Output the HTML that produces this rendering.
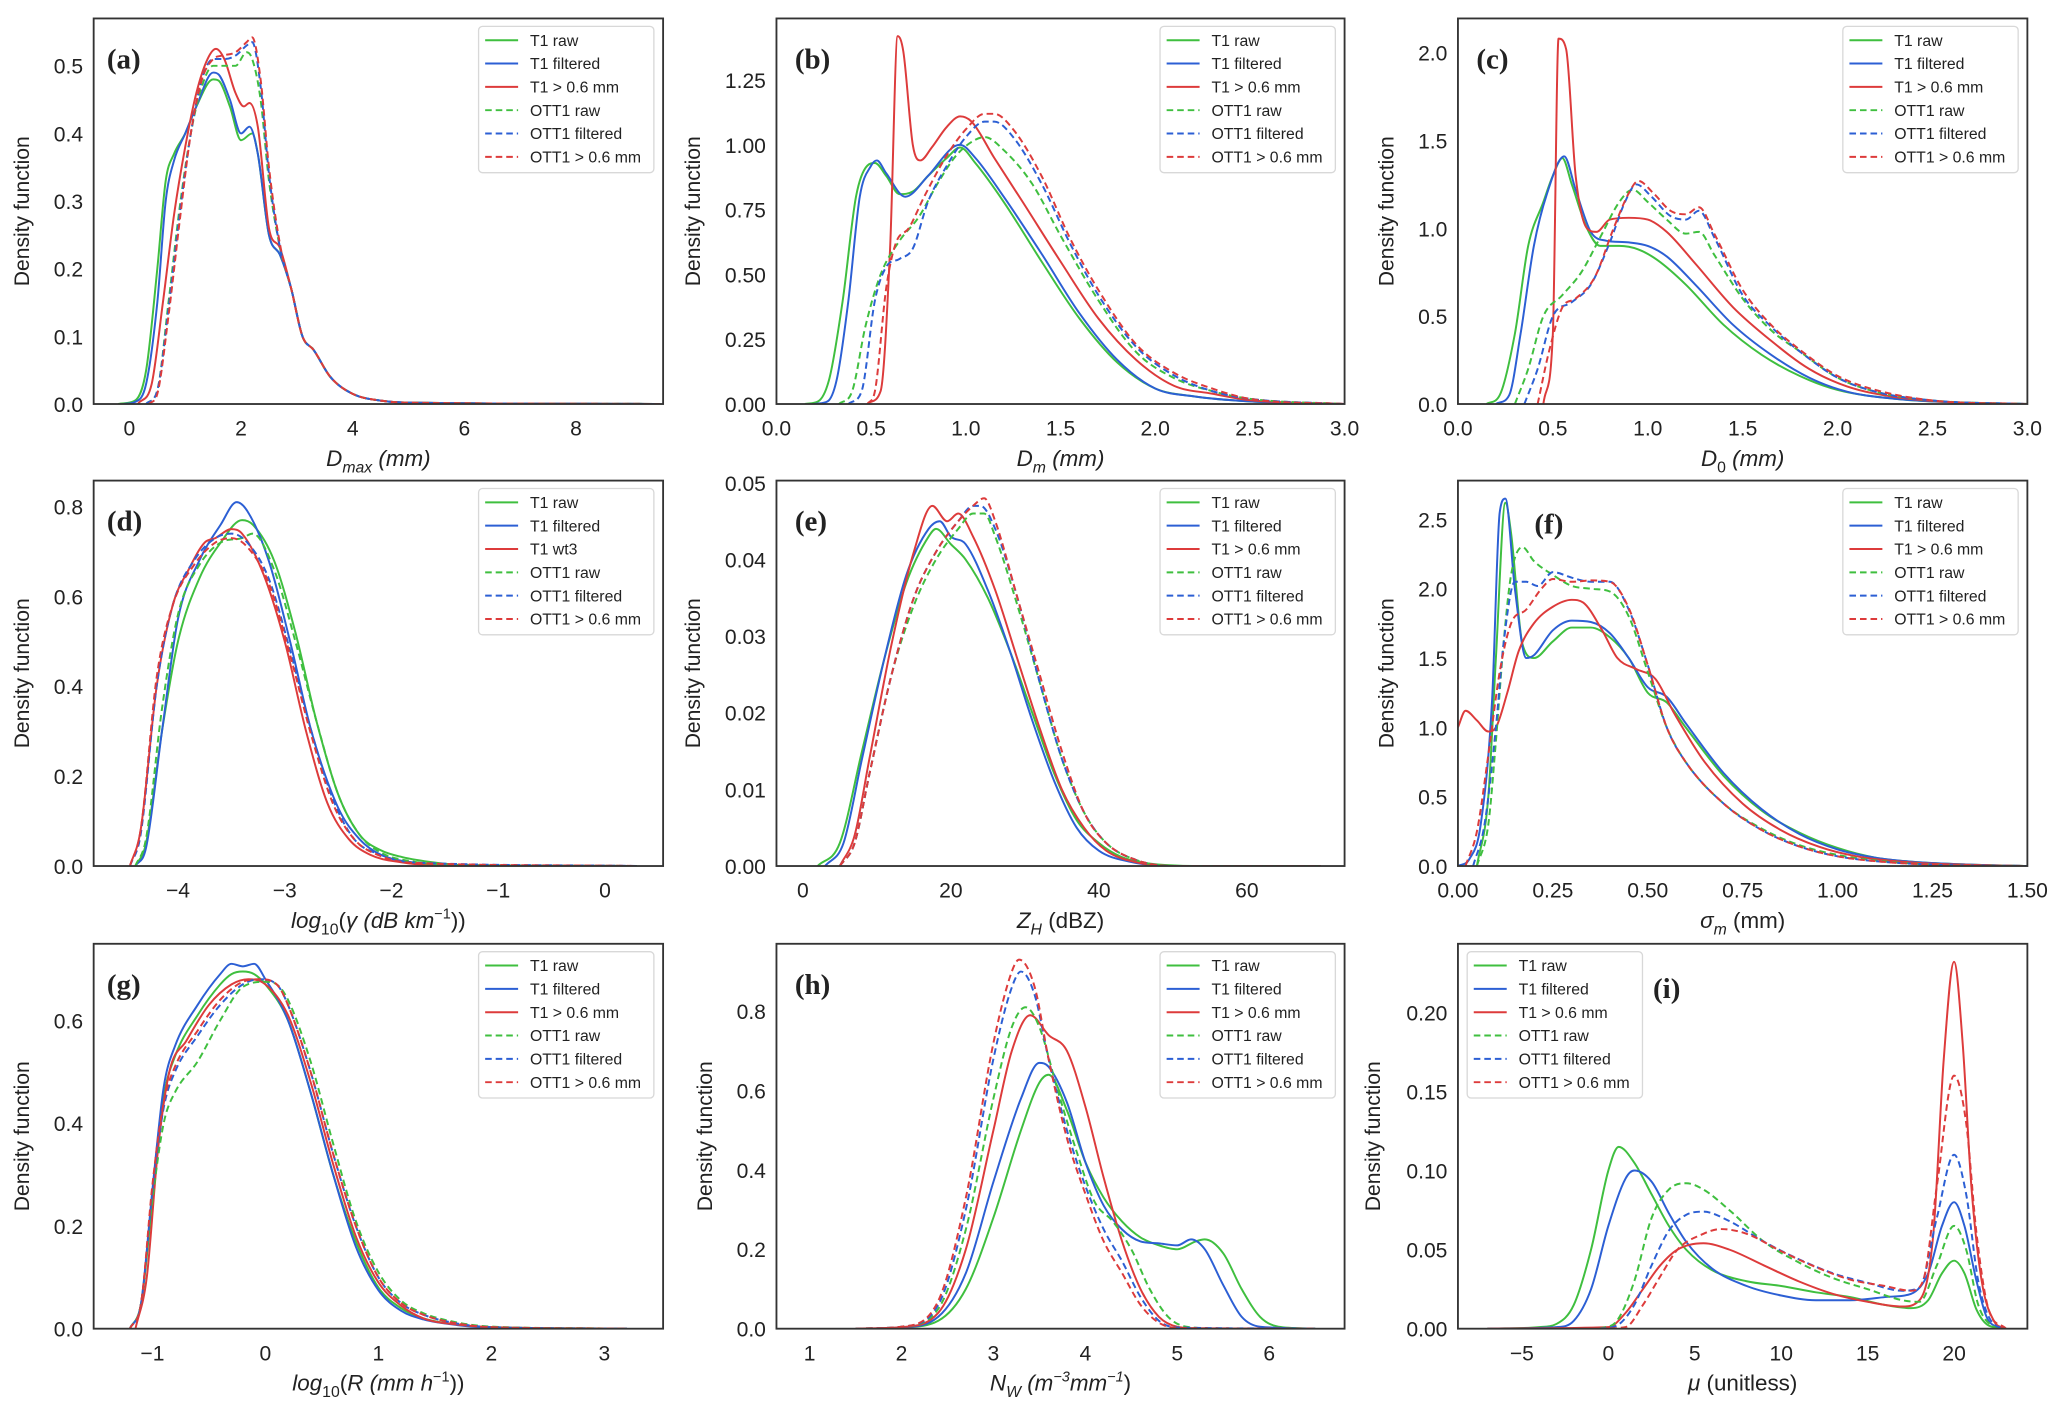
<!DOCTYPE html>
<html><head><meta charset="utf-8"><title>Density functions</title>
<style>
html,body{margin:0;padding:0;background:#fff;}
svg{display:block;}
text{font-family:"Liberation Sans",sans-serif;fill:#222;}
</style></head>
<body>
<svg id="fig" width="2067" height="1417" viewBox="0 0 1568 1075" xmlns="http://www.w3.org/2000/svg"></svg>
<script>
// ---------------- DATA ----------------
// legend labels
const labelsStd = ["T1 raw","T1 filtered","T1 > 0.6 mm","OTT1 raw","OTT1 filtered","OTT1 > 0.6 mm"];
const labelsD = ["T1 raw","T1 filtered","T1 wt3","OTT1 raw","OTT1 filtered","OTT1 > 0.6 mm"];

// panel a: Dmax
const a_t1raw=[[-0.2,0],[0.1,0.005],[0.3,0.05],[0.5,0.2],[0.65,0.33],[0.8,0.37],[1.0,0.40],[1.2,0.44],[1.5,0.48],[1.6,0.478],[1.8,0.44],[2.0,0.39],[2.2,0.40],[2.3,0.37],[2.5,0.25],[2.7,0.22],[2.9,0.17],[3.1,0.10],[3.3,0.08],[3.6,0.04],[4.0,0.015],[4.5,0.005],[5,0.002],[9.5,0]];
const a_t1filt=[[-0.1,0],[0.1,0.003],[0.3,0.03],[0.5,0.15],[0.65,0.30],[0.8,0.36],[1.0,0.40],[1.2,0.44],[1.5,0.49],[1.6,0.487],[1.8,0.45],[2.0,0.40],[2.15,0.41],[2.3,0.37],[2.5,0.25],[2.7,0.22],[2.9,0.17],[3.1,0.10],[3.3,0.08],[3.6,0.04],[4.0,0.015],[4.5,0.005],[5,0.002],[9.5,0]];
const a_t1big=[[0.15,0],[0.4,0.03],[0.6,0.15],[0.8,0.28],[1.0,0.38],[1.2,0.46],[1.4,0.51],[1.55,0.525],[1.7,0.51],[1.9,0.46],[2.05,0.44],[2.15,0.445],[2.3,0.41],[2.5,0.26],[2.7,0.23],[2.9,0.17],[3.1,0.10],[3.3,0.08],[3.6,0.04],[4.0,0.015],[4.5,0.005],[5,0.002],[9.5,0]];
const a_ottraw=[[0.3,0],[0.5,0.02],[0.7,0.15],[0.9,0.29],[1.1,0.40],[1.3,0.47],[1.5,0.50],[1.7,0.50],[1.9,0.50],[2.1,0.52],[2.2,0.51],[2.35,0.45],[2.5,0.33],[2.7,0.23],[2.9,0.17],[3.1,0.10],[3.3,0.08],[3.6,0.04],[4.0,0.015],[4.5,0.005],[5,0.002],[9.5,0]];
const a_ottfilt=[[0.3,0],[0.5,0.02],[0.7,0.14],[0.9,0.28],[1.1,0.40],[1.3,0.48],[1.5,0.51],[1.7,0.51],[1.9,0.515],[2.1,0.53],[2.2,0.535],[2.35,0.47],[2.5,0.34],[2.7,0.23],[2.9,0.17],[3.1,0.10],[3.3,0.08],[3.6,0.04],[4.0,0.015],[4.5,0.005],[5,0.002],[9.5,0]];
const a_ottbig=[[0.35,0],[0.5,0.015],[0.7,0.13],[0.9,0.27],[1.1,0.40],[1.3,0.48],[1.5,0.51],[1.65,0.515],[1.9,0.52],[2.1,0.535],[2.2,0.542],[2.35,0.48],[2.5,0.35],[2.7,0.235],[2.9,0.17],[3.1,0.10],[3.3,0.08],[3.6,0.04],[4.0,0.015],[4.5,0.005],[5,0.002],[9.5,0]];

// panel b: Dm
const b_t1raw=[[0.15,0],[0.22,0.01],[0.28,0.1],[0.35,0.4],[0.42,0.8],[0.48,0.92],[0.52,0.93],[0.58,0.88],[0.65,0.81],[0.72,0.82],[0.8,0.88],[0.9,0.95],[0.97,0.99],[1.05,0.93],[1.2,0.78],[1.4,0.55],[1.6,0.33],[1.8,0.16],[2.0,0.06],[2.2,0.03],[2.5,0.01],[3.0,0]];
const b_t1filt=[[0.2,0],[0.27,0.01],[0.32,0.1],[0.38,0.4],[0.44,0.8],[0.5,0.92],[0.53,0.94],[0.58,0.89],[0.68,0.8],[0.8,0.88],[0.93,0.99],[0.97,1.0],[1.05,0.95],[1.2,0.80],[1.4,0.58],[1.6,0.35],[1.8,0.17],[2.0,0.06],[2.2,0.03],[2.5,0.01],[3.0,0]];
const b_t1big=[[0.48,0],[0.55,0.05],[0.6,0.6],[0.64,1.42],[0.67,1.36],[0.72,1.0],[0.76,0.94],[0.82,0.99],[0.9,1.07],[0.97,1.11],[1.03,1.09],[1.15,0.95],[1.3,0.78],[1.5,0.55],[1.7,0.33],[1.9,0.17],[2.1,0.07],[2.3,0.04],[2.5,0.015],[3,0]];
const b_ottraw=[[0.33,0],[0.4,0.05],[0.47,0.3],[0.55,0.5],[0.65,0.63],[0.75,0.72],[0.85,0.85],[0.95,0.96],[1.05,1.02],[1.1,1.03],[1.2,0.98],[1.35,0.85],[1.5,0.65],[1.7,0.40],[1.9,0.20],[2.1,0.10],[2.3,0.05],[2.5,0.02],[3,0]];
const b_ottfilt=[[0.38,0],[0.45,0.05],[0.52,0.4],[0.58,0.53],[0.65,0.56],[0.72,0.6],[0.8,0.78],[0.9,0.92],[1.0,1.03],[1.1,1.09],[1.15,1.09],[1.25,1.03],[1.4,0.85],[1.55,0.62],[1.7,0.42],[1.9,0.22],[2.1,0.11],[2.3,0.05],[2.5,0.02],[3,0]];
const b_ottbig=[[0.48,0],[0.52,0.05],[0.58,0.45],[0.63,0.62],[0.7,0.68],[0.78,0.8],[0.9,0.96],[1.0,1.06],[1.1,1.12],[1.15,1.12],[1.25,1.06],[1.4,0.88],[1.55,0.64],[1.7,0.44],[1.9,0.23],[2.1,0.12],[2.3,0.06],[2.5,0.02],[3,0]];

// panel c: D0
const c_t1raw=[[0.15,0],[0.22,0.05],[0.3,0.4],[0.37,0.9],[0.45,1.15],[0.5,1.3],[0.55,1.4],[0.6,1.25],[0.68,1.0],[0.75,0.9],[0.85,0.9],[0.95,0.88],[1.05,0.82],[1.2,0.68],[1.4,0.45],[1.6,0.28],[1.8,0.16],[2.0,0.08],[2.3,0.03],[2.6,0.01],[3,0]];
const c_t1filt=[[0.2,0],[0.27,0.05],[0.33,0.4],[0.4,0.9],[0.47,1.2],[0.56,1.41],[0.62,1.22],[0.7,0.98],[0.78,0.93],[0.9,0.92],[1.0,0.9],[1.1,0.84],[1.25,0.68],[1.45,0.45],[1.65,0.28],[1.85,0.15],[2.05,0.07],[2.3,0.03],[2.6,0.01],[3,0]];
const c_t1big=[[0.45,0],[0.5,0.4],[0.53,2.08],[0.57,2.02],[0.62,1.3],[0.68,1.0],[0.73,0.98],[0.8,1.05],[0.9,1.06],[1.0,1.05],[1.1,0.98],[1.25,0.8],[1.45,0.55],[1.65,0.36],[1.85,0.2],[2.05,0.1],[2.3,0.04],[2.6,0.01],[3,0]];
const c_ottraw=[[0.3,0],[0.37,0.2],[0.45,0.5],[0.55,0.62],[0.65,0.75],[0.75,0.95],[0.85,1.15],[0.92,1.22],[1.0,1.15],[1.1,1.05],[1.2,0.97],[1.27,0.98],[1.35,0.85],[1.5,0.6],[1.65,0.42],[1.8,0.3],[2.0,0.15],[2.2,0.07],[2.5,0.02],[3,0]];
const c_ottfilt=[[0.35,0],[0.42,0.2],[0.5,0.5],[0.6,0.58],[0.7,0.68],[0.8,0.92],[0.88,1.15],[0.94,1.25],[1.02,1.18],[1.12,1.07],[1.2,1.05],[1.27,1.1],[1.35,0.95],[1.5,0.62],[1.65,0.44],[1.8,0.3],[2.0,0.15],[2.2,0.07],[2.5,0.02],[3,0]];
const c_ottbig=[[0.42,0],[0.48,0.3],[0.55,0.55],[0.62,0.6],[0.72,0.72],[0.82,1.0],[0.9,1.2],[0.95,1.27],[1.03,1.2],[1.12,1.1],[1.2,1.08],[1.27,1.12],[1.35,0.97],[1.5,0.65],[1.65,0.45],[1.8,0.31],[2.0,0.16],[2.2,0.08],[2.5,0.02],[3,0]];

// panel d: log10 gamma
const d_t1raw=[[-4.4,0],[-4.3,0.05],[-4.15,0.3],[-4.0,0.5],[-3.8,0.64],[-3.6,0.72],[-3.4,0.77],[-3.3,0.76],[-3.1,0.68],[-2.9,0.52],[-2.7,0.32],[-2.5,0.16],[-2.3,0.07],[-2.1,0.035],[-1.9,0.02],[-1.6,0.008],[-1.3,0.002],[0.3,0]];
const d_t1filt=[[-4.4,0],[-4.3,0.04],[-4.15,0.3],[-4.0,0.55],[-3.8,0.68],[-3.6,0.76],[-3.45,0.81],[-3.35,0.79],[-3.15,0.68],[-2.95,0.5],[-2.75,0.3],[-2.5,0.13],[-2.3,0.06],[-2.1,0.025],[-1.8,0.008],[-1.5,0.002],[0.3,0]];
const d_t1wt3=[[-4.45,0],[-4.35,0.08],[-4.2,0.4],[-4.05,0.58],[-3.9,0.66],[-3.75,0.72],[-3.65,0.73],[-3.5,0.75],[-3.4,0.74],[-3.2,0.65],[-3.0,0.5],[-2.8,0.3],[-2.6,0.14],[-2.4,0.06],[-2.2,0.025],[-1.9,0.008],[-1.6,0.002],[0.3,0]];
const d_ottraw=[[-4.4,0],[-4.3,0.06],[-4.15,0.35],[-4.0,0.56],[-3.8,0.67],[-3.6,0.72],[-3.4,0.73],[-3.3,0.74],[-3.1,0.66],[-2.9,0.5],[-2.7,0.32],[-2.5,0.16],[-2.3,0.07],[-2.1,0.03],[-1.8,0.01],[-1.5,0.003],[0.3,0]];
const d_ottfilt=[[-4.45,0],[-4.35,0.07],[-4.2,0.4],[-4.05,0.58],[-3.85,0.68],[-3.65,0.73],[-3.5,0.74],[-3.35,0.72],[-3.15,0.64],[-2.95,0.48],[-2.75,0.3],[-2.55,0.15],[-2.35,0.06],[-2.1,0.025],[-1.8,0.008],[0.3,0]];
const d_ottbig=[[-4.45,0],[-4.35,0.08],[-4.2,0.42],[-4.05,0.58],[-3.85,0.67],[-3.65,0.72],[-3.5,0.73],[-3.35,0.71],[-3.15,0.63],[-2.95,0.47],[-2.75,0.29],[-2.55,0.14],[-2.35,0.06],[-2.1,0.022],[-1.8,0.007],[0.3,0]];

// panel e: ZH
const e_t1raw=[[2,0],[5,0.003],[8,0.015],[11,0.027],[14,0.037],[17,0.043],[18,0.044],[20,0.042],[22,0.04],[25,0.035],[28,0.028],[31,0.02],[34,0.012],[37,0.006],[40,0.003],[43,0.0012],[47,0.0003],[55,0],[70,0]];
const e_t1filt=[[3,0],[5.5,0.003],[8,0.014],[11,0.027],[14,0.038],[17,0.044],[18.5,0.045],[20,0.043],[22,0.042],[25,0.036],[28,0.028],[31,0.019],[34,0.011],[37,0.005],[40,0.002],[44,0.0006],[50,0],[70,0]];
const e_t1big=[[5,0],[7,0.004],[9,0.014],[12,0.029],[15,0.041],[17.5,0.047],[19.5,0.045],[21,0.046],[23,0.043],[26,0.036],[29,0.027],[32,0.018],[35,0.01],[38,0.005],[41,0.002],[45,0.0005],[50,0],[70,0]];
const e_ottraw=[[5,0],[7,0.003],[9,0.012],[12,0.025],[15,0.034],[18,0.04],[21,0.044],[23,0.046],[24.5,0.046],[26,0.043],[29,0.034],[32,0.024],[35,0.014],[38,0.007],[41,0.003],[45,0.0008],[50,0],[70,0]];
const e_ottfilt=[[5,0],[7,0.003],[9,0.012],[12,0.025],[15,0.035],[18,0.041],[21,0.045],[23,0.047],[24,0.047],[26,0.044],[29,0.035],[32,0.024],[35,0.014],[38,0.007],[41,0.003],[45,0.0008],[50,0],[70,0]];
const e_ottbig=[[5,0],[7,0.003],[9,0.012],[12,0.025],[15,0.035],[18,0.041],[21,0.045],[23,0.047],[24.5,0.048],[26,0.045],[29,0.035],[32,0.025],[35,0.015],[38,0.007],[41,0.003],[45,0.0008],[50,0],[70,0]];

// panel f: sigma_m
const f_t1raw=[[0.05,0],[0.08,0.5],[0.1,1.5],[0.125,2.62],[0.14,2.4],[0.17,1.6],[0.2,1.5],[0.25,1.62],[0.3,1.72],[0.35,1.72],[0.4,1.65],[0.45,1.5],[0.5,1.25],[0.55,1.18],[0.6,1.0],[0.7,0.65],[0.8,0.4],[0.9,0.24],[1.0,0.13],[1.1,0.06],[1.2,0.03],[1.35,0.01],[1.5,0]];
const f_t1filt=[[0.0,0],[0.03,0.05],[0.06,0.3],[0.09,1.2],[0.11,2.55],[0.125,2.65],[0.15,2.0],[0.18,1.5],[0.2,1.52],[0.25,1.7],[0.3,1.77],[0.35,1.76],[0.4,1.68],[0.45,1.5],[0.5,1.29],[0.55,1.22],[0.6,1.03],[0.7,0.67],[0.8,0.41],[0.9,0.23],[1.0,0.12],[1.1,0.06],[1.2,0.03],[1.35,0.01],[1.5,0]];
const f_t1big=[[0,1.0],[0.02,1.12],[0.05,1.05],[0.08,0.97],[0.1,1.0],[0.13,1.25],[0.16,1.55],[0.2,1.75],[0.25,1.87],[0.3,1.92],[0.33,1.9],[0.38,1.7],[0.42,1.5],[0.47,1.42],[0.52,1.35],[0.57,1.1],[0.65,0.75],[0.75,0.45],[0.85,0.26],[0.95,0.14],[1.05,0.07],[1.2,0.025],[1.35,0.008],[1.5,0]];
const f_ottraw=[[0.05,0],[0.08,0.3],[0.1,0.9],[0.12,1.6],[0.14,2.1],[0.17,2.3],[0.2,2.2],[0.25,2.1],[0.3,2.02],[0.35,2.0],[0.4,1.98],[0.45,1.8],[0.5,1.4],[0.55,1.0],[0.6,0.75],[0.7,0.45],[0.8,0.27],[0.9,0.15],[1.0,0.08],[1.1,0.04],[1.25,0.01],[1.5,0]];
const f_ottfilt=[[0.04,0],[0.07,0.3],[0.1,1.0],[0.12,1.6],[0.15,2.05],[0.18,2.05],[0.21,2.02],[0.25,2.12],[0.3,2.08],[0.35,2.05],[0.4,2.05],[0.45,1.85],[0.5,1.45],[0.55,1.0],[0.6,0.75],[0.7,0.45],[0.8,0.26],[0.9,0.14],[1.0,0.07],[1.1,0.035],[1.25,0.01],[1.5,0]];
const f_ottbig=[[0.02,0],[0.05,0.25],[0.08,0.8],[0.11,1.4],[0.14,1.75],[0.18,1.85],[0.22,2.0],[0.25,2.07],[0.3,2.05],[0.35,2.06],[0.4,2.05],[0.45,1.86],[0.5,1.45],[0.55,1.0],[0.6,0.75],[0.7,0.45],[0.8,0.26],[0.9,0.14],[1.0,0.07],[1.1,0.035],[1.25,0.01],[1.5,0]];

// panel g: log10 R
const g_t1raw=[[-1.2,0],[-1.1,0.05],[-1.0,0.25],[-0.9,0.45],[-0.8,0.53],[-0.6,0.61],[-0.4,0.67],[-0.3,0.69],[-0.2,0.695],[-0.1,0.69],[0,0.67],[0.2,0.6],[0.4,0.46],[0.6,0.3],[0.8,0.17],[1.0,0.08],[1.2,0.04],[1.4,0.02],[1.7,0.008],[2.0,0.003],[3.2,0]];
const g_t1filt=[[-1.2,0],[-1.1,0.05],[-1.0,0.27],[-0.9,0.47],[-0.8,0.55],[-0.6,0.63],[-0.4,0.69],[-0.3,0.71],[-0.2,0.705],[-0.1,0.71],[0,0.68],[0.2,0.6],[0.4,0.46],[0.6,0.3],[0.8,0.16],[1.0,0.075],[1.2,0.035],[1.4,0.018],[1.7,0.007],[2.0,0.002],[3.2,0]];
const g_t1big=[[-1.15,0],[-1.05,0.1],[-0.95,0.35],[-0.85,0.5],[-0.7,0.56],[-0.5,0.63],[-0.3,0.67],[-0.15,0.68],[0,0.67],[0.2,0.61],[0.4,0.48],[0.6,0.32],[0.8,0.18],[1.0,0.09],[1.2,0.045],[1.4,0.02],[1.7,0.008],[2.0,0.003],[3.2,0]];
const g_ottraw=[[-1.2,0],[-1.1,0.05],[-1.0,0.25],[-0.9,0.4],[-0.8,0.46],[-0.6,0.52],[-0.4,0.6],[-0.2,0.665],[0,0.675],[0.1,0.67],[0.2,0.64],[0.4,0.52],[0.6,0.36],[0.8,0.21],[1.0,0.11],[1.2,0.055],[1.4,0.03],[1.7,0.012],[2.0,0.004],[3.2,0]];
const g_ottfilt=[[-1.2,0],[-1.1,0.05],[-1.0,0.27],[-0.9,0.43],[-0.8,0.5],[-0.6,0.57],[-0.4,0.63],[-0.2,0.67],[-0.05,0.68],[0.1,0.67],[0.2,0.63],[0.4,0.5],[0.6,0.34],[0.8,0.2],[1.0,0.1],[1.2,0.05],[1.4,0.027],[1.7,0.01],[2.0,0.003],[3.2,0]];
const g_ottbig=[[-1.2,0],[-1.1,0.05],[-1.0,0.28],[-0.9,0.44],[-0.8,0.51],[-0.6,0.58],[-0.4,0.64],[-0.2,0.675],[-0.05,0.68],[0.1,0.67],[0.2,0.63],[0.4,0.5],[0.6,0.34],[0.8,0.2],[1.0,0.1],[1.2,0.05],[1.4,0.027],[1.7,0.01],[2.0,0.003],[3.2,0]];

// panel h: NW
const h_t1raw=[[1.5,0],[2.0,0.003],[2.4,0.02],[2.7,0.1],[3.0,0.28],[3.3,0.5],[3.5,0.62],[3.6,0.64],[3.8,0.55],[4.0,0.42],[4.2,0.33],[4.4,0.27],[4.6,0.23],[4.8,0.21],[5.0,0.2],[5.2,0.22],[5.3,0.225],[5.5,0.19],[5.7,0.1],[5.9,0.03],[6.1,0.005],[6.5,0]];
const h_t1filt=[[1.5,0],[2.0,0.003],[2.4,0.03],[2.7,0.14],[3.0,0.37],[3.3,0.58],[3.5,0.67],[3.6,0.66],[3.8,0.57],[4.0,0.42],[4.2,0.31],[4.4,0.25],[4.6,0.22],[4.8,0.215],[5.0,0.21],[5.15,0.225],[5.3,0.2],[5.5,0.11],[5.7,0.03],[5.9,0.005],[6.5,0]];
const h_t1big=[[1.5,0],[2.0,0.004],[2.4,0.04],[2.7,0.2],[3.0,0.5],[3.2,0.7],[3.4,0.79],[3.6,0.74],[3.8,0.7],[4.0,0.56],[4.2,0.38],[4.4,0.22],[4.6,0.1],[4.8,0.03],[5.0,0.005],[5.3,0],[6.5,0]];
const h_ottraw=[[1.5,0],[2.0,0.005],[2.4,0.05],[2.7,0.25],[3.0,0.58],[3.2,0.76],[3.35,0.81],[3.5,0.76],[3.7,0.6],[3.9,0.45],[4.1,0.32],[4.3,0.27],[4.5,0.2],[4.7,0.1],[4.9,0.03],[5.1,0.005],[5.5,0],[6.5,0]];
const h_ottfilt=[[1.5,0],[2.0,0.005],[2.4,0.06],[2.7,0.3],[3.0,0.68],[3.2,0.86],[3.3,0.9],[3.45,0.84],[3.6,0.68],[3.8,0.5],[4.0,0.36],[4.2,0.25],[4.4,0.17],[4.6,0.08],[4.8,0.02],[5.0,0.003],[6.5,0]];
const h_ottbig=[[1.5,0],[2.0,0.005],[2.4,0.07],[2.7,0.33],[3.0,0.72],[3.2,0.9],[3.28,0.93],[3.45,0.86],[3.6,0.68],[3.8,0.48],[4.0,0.34],[4.2,0.22],[4.4,0.14],[4.6,0.06],[4.8,0.015],[5.0,0.002],[6.5,0]];

// panel i: mu
const i_t1raw=[[-7,0],[-4,0.001],[-3,0.003],[-2,0.015],[-1,0.05],[0,0.1],[0.6,0.115],[1.5,0.105],[2.5,0.085],[3.5,0.065],[4.5,0.05],[6,0.037],[8,0.03],[10,0.027],[12,0.023],[14,0.02],[16,0.015],[17.5,0.013],[18.5,0.018],[19.3,0.035],[20,0.043],[20.6,0.035],[21.3,0.012],[22,0.002],[23,0]];
const i_t1filt=[[-7,0],[-3,0.001],[-2,0.005],[-1,0.025],[0,0.065],[1,0.095],[1.5,0.1],[2.5,0.093],[3.5,0.073],[4.5,0.055],[6,0.038],[8,0.027],[10,0.021],[12,0.018],[14,0.018],[16,0.02],[17.5,0.022],[18.5,0.035],[19.3,0.065],[20,0.08],[20.6,0.065],[21.3,0.03],[22,0.005],[23,0]];
const i_t1big=[[-7,0],[0,0.001],[1,0.01],[2,0.025],[3,0.04],[4,0.05],[5.5,0.054],[7,0.05],[9,0.04],[11,0.03],[13,0.022],[15,0.017],[17,0.014],[18,0.018],[18.8,0.06],[19.4,0.17],[20,0.232],[20.5,0.18],[21,0.09],[21.6,0.03],[22.3,0.005],[23,0]];
const i_ottraw=[[-0.5,0],[0.5,0.005],[1.5,0.03],[2.5,0.07],[3.5,0.088],[4.5,0.092],[5.5,0.088],[7,0.075],[9,0.055],[11,0.042],[13,0.032],[15,0.025],[17,0.018],[18,0.017],[19,0.04],[20,0.065],[20.7,0.05],[21.4,0.015],[22.2,0.002],[23,0]];
const i_ottfilt=[[-0.5,0],[0.5,0.002],[1.5,0.015],[2.5,0.04],[3.5,0.062],[4.5,0.072],[5.5,0.074],[7,0.068],[9,0.055],[11,0.044],[13,0.035],[15,0.029],[17,0.024],[18,0.026],[19,0.07],[20,0.11],[20.7,0.085],[21.4,0.03],[22.2,0.004],[23,0]];
const i_ottbig=[[-0.5,0],[1,0.001],[2,0.015],[3,0.033],[4,0.05],[5.5,0.06],[6.5,0.063],[8,0.06],[10,0.049],[12,0.039],[14,0.031],[16,0.027],[17.5,0.024],[18.2,0.03],[19,0.09],[20,0.16],[20.7,0.13],[21.3,0.06],[22,0.012],[23,0]];

// tick labels
const a_xt=[0,2,4,6,8], a_yt=[0.0,0.1,0.2,0.3,0.4,0.5];
const b_xt=[0.0,0.5,1.0,1.5,2.0,2.5,3.0], b_yt=[0.00,0.25,0.50,0.75,1.00,1.25];
const c_xt=[0.0,0.5,1.0,1.5,2.0,2.5,3.0], c_yt=[0.0,0.5,1.0,1.5,2.0];
const d_xt=[-4,-3,-2,-1,0], d_yt=[0.0,0.2,0.4,0.6,0.8];
const e_xt=[0,20,40,60], e_yt=[0.00,0.01,0.02,0.03,0.04,0.05];
const f_xt=[0.00,0.25,0.50,0.75,1.00,1.25,1.50], f_yt=[0.0,0.5,1.0,1.5,2.0,2.5];
const g_xt=[-1,0,1,2,3], g_yt=[0.0,0.2,0.4,0.6];
const h_xt=[1,2,3,4,5,6], h_yt=[0.0,0.2,0.4,0.6,0.8];
const i_xt=[-5,0,5,10,15,20], i_yt=[0.00,0.05,0.10,0.15,0.20];

// ---------------- DRAWING ----------------
const NS="http://www.w3.org/2000/svg";
const svg=document.getElementById('fig');
const COL=["#3fbf3f","#2c5fd4","#dd3b3b"];
function el(tag,attrs,parent){const e=document.createElementNS(NS,tag);for(const k in attrs)e.setAttribute(k,attrs[k]);(parent||svg).appendChild(e);return e;}

function monoPath(pts){
  const n=pts.length; if(n<2)return '';
  const dx=[],m=[],t=[];
  for(let i=0;i<n-1;i++){dx[i]=pts[i+1][0]-pts[i][0];m[i]=dx[i]===0?0:(pts[i+1][1]-pts[i][1])/dx[i];}
  t[0]=m[0];t[n-1]=m[n-2];
  for(let i=1;i<n-1;i++){ if(m[i-1]*m[i]<=0)t[i]=0; else { t[i]=(m[i-1]+m[i])/2; const a=t[i]/m[i-1],b=t[i]/m[i],s=a*a+b*b; if(s>9){const tau=3/Math.sqrt(s);t[i]=tau*a*m[i-1];} } }
  let d='M'+pts[0][0].toFixed(2)+','+pts[0][1].toFixed(2);
  for(let i=0;i<n-1;i++){const h=dx[i]/3;
    d+=' C'+(pts[i][0]+h).toFixed(2)+','+(pts[i][1]+t[i]*h).toFixed(2)+' '+(pts[i+1][0]-h).toFixed(2)+','+(pts[i+1][1]-t[i+1]*h).toFixed(2)+' '+pts[i+1][0].toFixed(2)+','+pts[i+1][1].toFixed(2);}
  return d;
}
function fmt(v,dec){return v<0?'\u2212'+Math.abs(v).toFixed(dec):v.toFixed(dec);}

function panel(o){
  const g=el('g',{});
  
  
  const X=v=>o.L+(v-o.x0)/(o.x1-o.x0)*(o.R-o.L);
  const Y=v=>o.B-(v-o.y0)/(o.y1-o.y0)*(o.B-o.T);
  const cp=el('clipPath',{id:'clip'+o.id},g);
  el('rect',{x:o.L,y:o.T,width:o.R-o.L,height:o.B-o.T},cp);
  const sg=el('g',{'clip-path':'url(#clip'+o.id+')'},g);
  o.series.forEach((s,k)=>{
    const pts=s.map(p=>[X(p[0]),Y(p[1])]);
    const p=el('path',{d:monoPath(pts),fill:'none',stroke:COL[k%3],'stroke-width':1.5,'stroke-dasharray':k>=3?'5,3':'none','stroke-linejoin':'round'},sg);
    
    
  });
  const fr=el('rect',{x:o.L,y:o.T,width:o.R-o.L,height:o.B-o.T,fill:'none',stroke:'#333','stroke-width':1.4},g);
  
  
  o.xt.forEach(v=>{const t=el('text',{x:X(v),y:o.B+24,'text-anchor':'middle','font-size':16},g);t.textContent=fmt(v,o.xd);
    
    });
  o.yt.forEach(v=>{const t=el('text',{x:o.L-8,y:Y(v)+6,'text-anchor':'end','font-size':16},g);t.textContent=fmt(v,o.yd);
    
    });
  const yl=el('text',{x:o.L-o.yo,y:(o.T+o.B)/2,'text-anchor':'middle','font-size':16,transform:'rotate(-90 '+(o.L-o.yo)+' '+((o.T+o.B)/2)+')'},g);
  yl.textContent='Density function';
  
  
  const xl=el('text',{x:(o.L+o.R)/2,y:o.B+47,'text-anchor':'middle','font-size':17},g);
  xl.innerHTML=o.xlabel;
  
  
  const pl=el('text',{x:o.lx,y:o.ly,'font-size':22,'font-weight':'bold',style:'font-family:"Liberation Serif",serif'},g);
  pl.textContent='('+o.id+')';
  
  
  const lw=133,lh=111;
  const lx=o.legLeft?o.L+7:o.R-7-lw, ly=o.T+6;
  const lg=el('g',{},g);
  
  
  el('rect',{x:lx,y:ly,width:lw,height:lh,rx:3,fill:'#fff',stroke:'#d8d8d8','stroke-width':1},lg);
  o.labels.forEach((lab,k)=>{
    const yy=ly+10.5+k*17.7;
    const ln=el('line',{x1:lx+5,x2:lx+30,y1:yy,y2:yy,stroke:COL[k%3],'stroke-width':1.5,'stroke-dasharray':k>=3?'5,3':'none'},lg);
    
    
    const t=el('text',{x:lx+39,y:yy+4.3,'font-size':12},lg);t.textContent=lab;
    
    
  });
}

const C1=[71,503],C2=[589,1020],C3=[1106,1538];
const R1=[14,306.5],R2=[364.6,657],R3=[716,1008];
const it='font-style="italic"';
panel({id:'a',L:C1[0],R:C1[1],T:R1[0],B:R1[1],x0:-0.64,x1:9.56,y0:0,y1:0.57,xt:a_xt,yt:a_yt,xd:0,yd:1,yo:49,lx:C1[0]+10,ly:R1[0]+38,labels:labelsStd,series:[a_t1raw,a_t1filt,a_t1big,a_ottraw,a_ottfilt,a_ottbig],
  xlabel:'<tspan '+it+'>D</tspan><tspan '+it+' font-size="12" dy="5">max</tspan><tspan '+it+' dy="-5"> (mm)</tspan>'});
panel({id:'b',L:C2[0],R:C2[1],T:R1[0],B:R1[1],x0:0,x1:3,y0:0,y1:1.488,xt:b_xt,yt:b_yt,xd:1,yd:2,yo:58,lx:C2[0]+14,ly:R1[0]+38,labels:labelsStd,series:[b_t1raw,b_t1filt,b_t1big,b_ottraw,b_ottfilt,b_ottbig],
  xlabel:'<tspan '+it+'>D</tspan><tspan '+it+' font-size="12" dy="5">m</tspan><tspan '+it+' dy="-5"> (mm)</tspan>'});
panel({id:'c',L:C3[0],R:C3[1],T:R1[0],B:R1[1],x0:0,x1:3,y0:0,y1:2.195,xt:c_xt,yt:c_yt,xd:1,yd:1,yo:49,lx:C3[0]+14,ly:R1[0]+38,labels:labelsStd,series:[c_t1raw,c_t1filt,c_t1big,c_ottraw,c_ottfilt,c_ottbig],
  xlabel:'<tspan '+it+'>D</tspan><tspan font-size="12" dy="5">0</tspan><tspan '+it+' dy="-5"> (mm)</tspan>'});
panel({id:'d',L:C1[0],R:C1[1],T:R2[0],B:R2[1],x0:-4.79,x1:0.545,y0:0,y1:0.858,xt:d_xt,yt:d_yt,xd:0,yd:1,yo:49,lx:C1[0]+10,ly:R2[0]+38,labels:labelsD,series:[d_t1raw,d_t1filt,d_t1wt3,d_ottraw,d_ottfilt,d_ottbig],
  xlabel:'<tspan '+it+'>log</tspan><tspan font-size="12" dy="5">10</tspan><tspan dy="-5">(</tspan><tspan '+it+'>γ (dB km</tspan><tspan font-size="11" dy="-7">−1</tspan><tspan dy="7">))</tspan>'});
panel({id:'e',L:C2[0],R:C2[1],T:R2[0],B:R2[1],x0:-3.56,x1:73.2,y0:0,y1:0.0503,xt:e_xt,yt:e_yt,xd:0,yd:2,yo:58,lx:C2[0]+14,ly:R2[0]+38,labels:labelsStd,series:[e_t1raw,e_t1filt,e_t1big,e_ottraw,e_ottfilt,e_ottbig],
  xlabel:'<tspan '+it+'>Z</tspan><tspan '+it+' font-size="12" dy="5">H</tspan><tspan dy="-5"> (dBZ)</tspan>'});
panel({id:'f',L:C3[0],R:C3[1],T:R2[0],B:R2[1],x0:0,x1:1.5,y0:0,y1:2.78,xt:f_xt,yt:f_yt,xd:2,yd:1,yo:49,lx:C3[0]+58,ly:R2[0]+40,labels:labelsStd,series:[f_t1raw,f_t1filt,f_t1big,f_ottraw,f_ottfilt,f_ottbig],
  xlabel:'<tspan '+it+'>σ</tspan><tspan '+it+' font-size="12" dy="5">m</tspan><tspan dy="-5"> (mm)</tspan>'});
panel({id:'g',L:C1[0],R:C1[1],T:R3[0],B:R3[1],x0:-1.52,x1:3.52,y0:0,y1:0.749,xt:g_xt,yt:g_yt,xd:0,yd:1,yo:49,lx:C1[0]+10,ly:R3[0]+38,labels:labelsStd,series:[g_t1raw,g_t1filt,g_t1big,g_ottraw,g_ottfilt,g_ottbig],
  xlabel:'<tspan '+it+'>log</tspan><tspan font-size="12" dy="5">10</tspan><tspan dy="-5">(</tspan><tspan '+it+'>R (mm h</tspan><tspan font-size="11" dy="-7">−1</tspan><tspan dy="7">))</tspan>'});
panel({id:'h',L:C2[0],R:C2[1],T:R3[0],B:R3[1],x0:0.64,x1:6.82,y0:0,y1:0.97,xt:h_xt,yt:h_yt,xd:0,yd:1,yo:49,lx:C2[0]+14,ly:R3[0]+38,labels:labelsStd,series:[h_t1raw,h_t1filt,h_t1big,h_ottraw,h_ottfilt,h_ottbig],
  xlabel:'<tspan '+it+'>N</tspan><tspan '+it+' font-size="12" dy="5">W</tspan><tspan '+it+' dy="-5"> (m</tspan><tspan '+it+' font-size="11" dy="-7">−3</tspan><tspan '+it+' dy="7">mm</tspan><tspan '+it+' font-size="11" dy="-7">−1</tspan><tspan dy="7">)</tspan>'});
panel({id:'i',L:C3[0],R:C3[1],T:R3[0],B:R3[1],x0:-8.7,x1:24.24,y0:0,y1:0.2434,xt:i_xt,yt:i_yt,xd:0,yd:2,yo:59,lx:1254,ly:R3[0]+41,legLeft:true,labels:labelsStd,series:[i_t1raw,i_t1filt,i_t1big,i_ottraw,i_ottfilt,i_ottbig],
  xlabel:'<tspan '+it+'>μ</tspan><tspan> (unitless)</tspan>'});
</script>
</body></html>
